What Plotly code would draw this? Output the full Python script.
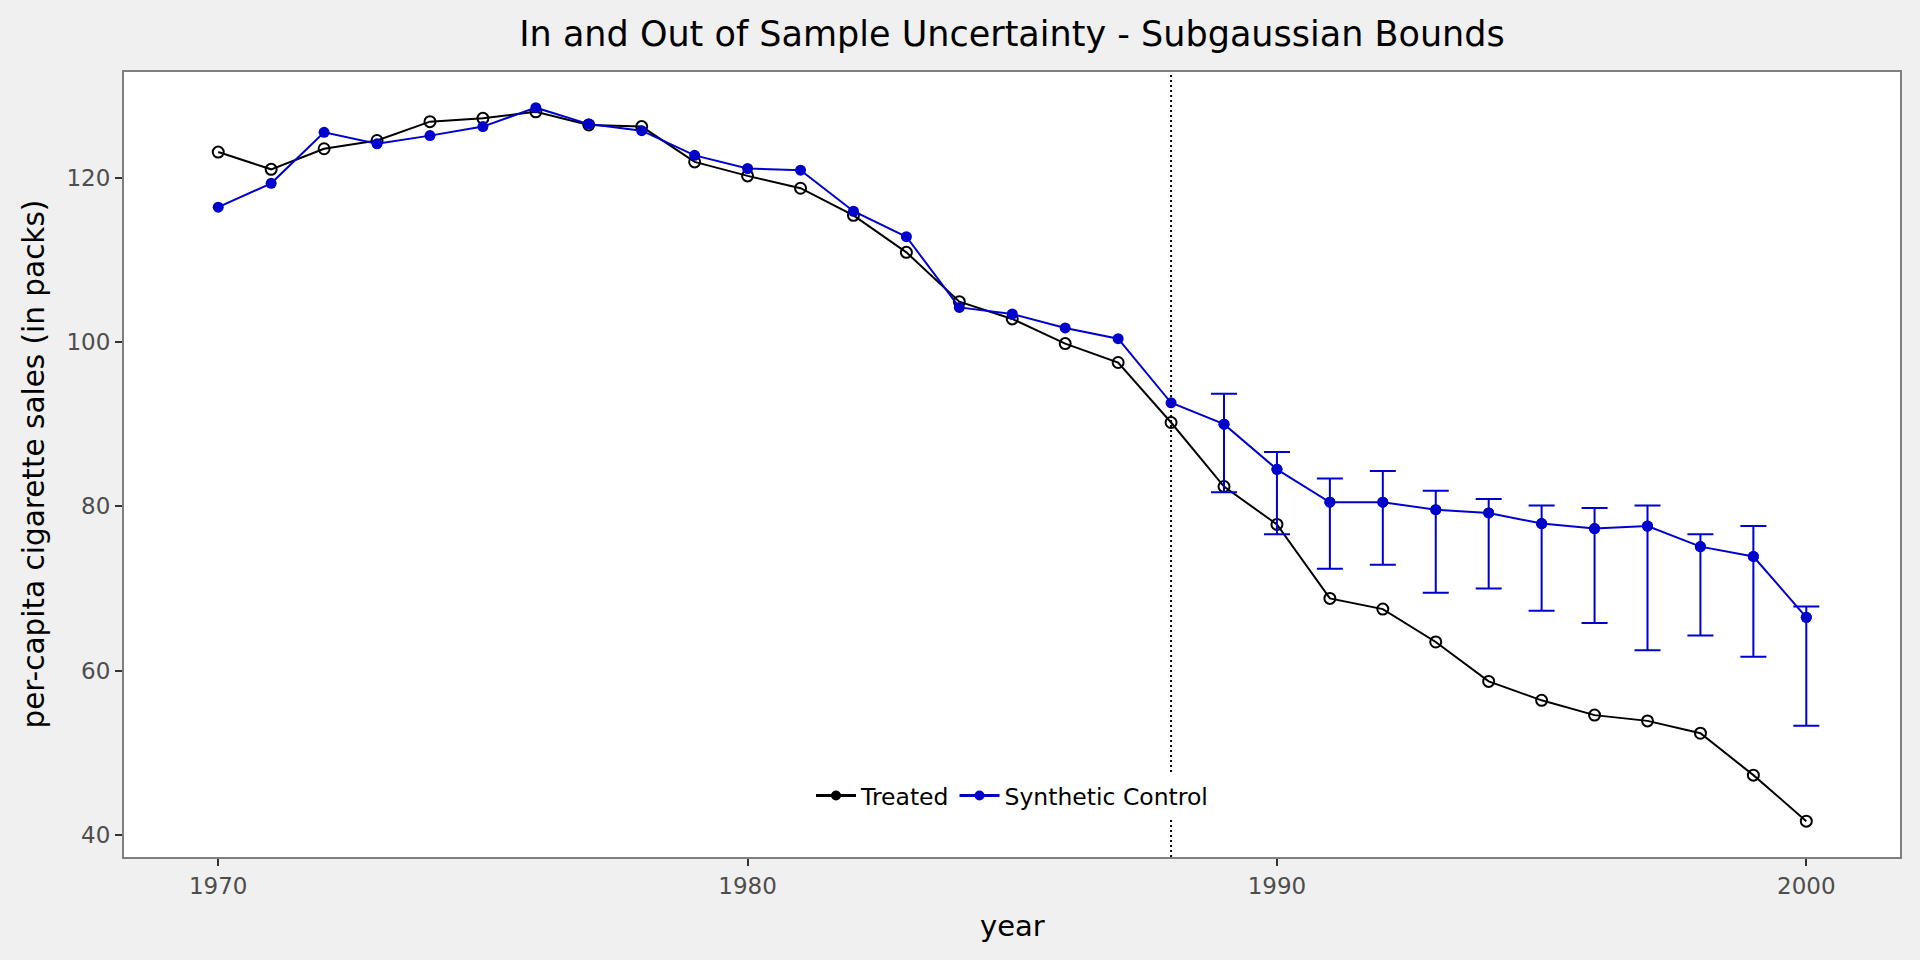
import plotly.graph_objects as go

years = list(range(1970, 2001))
treated = [123.1, 121.0, 123.5, 124.5, 126.8, 127.2, 128.0, 126.4, 126.2, 121.9,
           120.2, 118.7, 115.4, 110.9, 104.9, 102.8, 99.8, 97.5, 90.2, 82.4,
           77.8, 68.8, 67.5, 63.5, 58.7, 56.4, 54.6, 53.9, 52.4, 47.3, 41.7]
synthetic = [116.4, 119.3, 125.5, 124.1, 125.1, 126.2, 128.5, 126.5, 125.7, 122.7,
             121.1, 120.9, 115.9, 112.8, 104.2, 103.4, 101.7, 100.4, 92.6, 90.0,
             84.5, 80.5, 80.5, 79.6, 79.2, 77.9, 77.3, 77.6, 75.1, 73.9, 66.5]
post_years = list(range(1989, 2001))
upper = [93.7, 86.6, 83.4, 84.3, 81.9, 80.9, 80.1, 79.8, 80.1, 76.6, 77.6, 67.8]
lower = [81.7, 76.6, 72.4, 72.9, 69.5, 70.0, 67.3, 65.8, 62.5, 64.3, 61.7, 53.3]
treatment_year = 1988
x_ticks = [1970, 1980, 1990, 2000]
y_ticks = [40, 60, 80, 100, 120]

BLUE = "#0000CD"
post_synth = [synthetic[years.index(y)] for y in post_years]
err_plus = [u - s for u, s in zip(upper, post_synth)]
err_minus = [s - l for s, l in zip(post_synth, lower)]

fig = go.Figure()
fig.add_trace(go.Scatter(
    x=years, y=treated, mode="lines+markers", showlegend=False,
    line=dict(color="black", width=2),
    marker=dict(symbol="circle-open", size=11, color="black", line=dict(width=2)),
))
fig.add_trace(go.Scatter(
    x=post_years, y=post_synth, mode="markers", showlegend=False,
    marker=dict(size=11, color=BLUE),
    error_y=dict(type="data", symmetric=False, array=err_plus, arrayminus=err_minus,
                 color=BLUE, thickness=2, width=13),
))
fig.add_trace(go.Scatter(
    x=years, y=synthetic, mode="lines+markers", showlegend=False,
    line=dict(color=BLUE, width=2),
    marker=dict(size=11, color=BLUE),
))
# legend entries
fig.add_trace(go.Scatter(x=[None], y=[None], mode="lines+markers", name="Treated",
                         line=dict(color="black", width=3), marker=dict(size=10, color="black")))
fig.add_trace(go.Scatter(x=[None], y=[None], mode="lines+markers", name="Synthetic Control",
                         line=dict(color=BLUE, width=3), marker=dict(size=10, color=BLUE)))

fig.add_shape(type="line", xref="x", yref="paper", x0=treatment_year, x1=treatment_year,
              y0=0, y1=1, line=dict(color="black", width=2, dash="2px,3px"), layer="below")

axis_common = dict(showgrid=False, zeroline=False, showline=True, linecolor="#7F7F7F",
                   linewidth=2, mirror=True, ticks="outside", ticklen=7, tickwidth=1.5,
                   tickcolor="#333333", tickfont=dict(family="DejaVu Sans", size=23, color="#4D4D4D"))

fig.update_layout(
    width=1920, height=960,
    paper_bgcolor="#F0F0F0", plot_bgcolor="white",
    margin=dict(l=124, r=20, t=72, b=103),
    font=dict(family="DejaVu Sans", color="black"),
    title=dict(text="In and Out of Sample Uncertainty - Subgaussian Bounds",
               x=0.5, xref="paper", xanchor="center", y=1 - 34 / 960, yanchor="middle",
               yref="container", font=dict(size=35, color="black")),
    xaxis=dict(range=[1968.22, 2001.77], tickvals=x_ticks, **axis_common),
    yaxis=dict(range=[37.34, 132.84], tickvals=y_ticks, **axis_common),
    legend=dict(orientation="h", x=0.5, xanchor="center", y=0.078, yanchor="middle",
                bgcolor="white", font=dict(size=23.5, color="black"), itemwidth=40),
    annotations=[
        dict(text="year", xref="paper", yref="paper", x=0.5, y=-(926 - 857) / 785,
             showarrow=False, font=dict(size=29, color="black"), xanchor="center", yanchor="middle"),
        dict(text="per-capita cigarette sales (in packs)", xref="paper", yref="paper",
             x=-(124 - 33) / 1776, y=0.5, textangle=-90, showarrow=False,
             font=dict(size=29.5, color="black"), xanchor="center", yanchor="middle"),
    ],
)

fig.write_html("out.html", config={"displayModeBar": False},
               post_script="document.body.style.margin='0';document.body.style.overflow='hidden';")
